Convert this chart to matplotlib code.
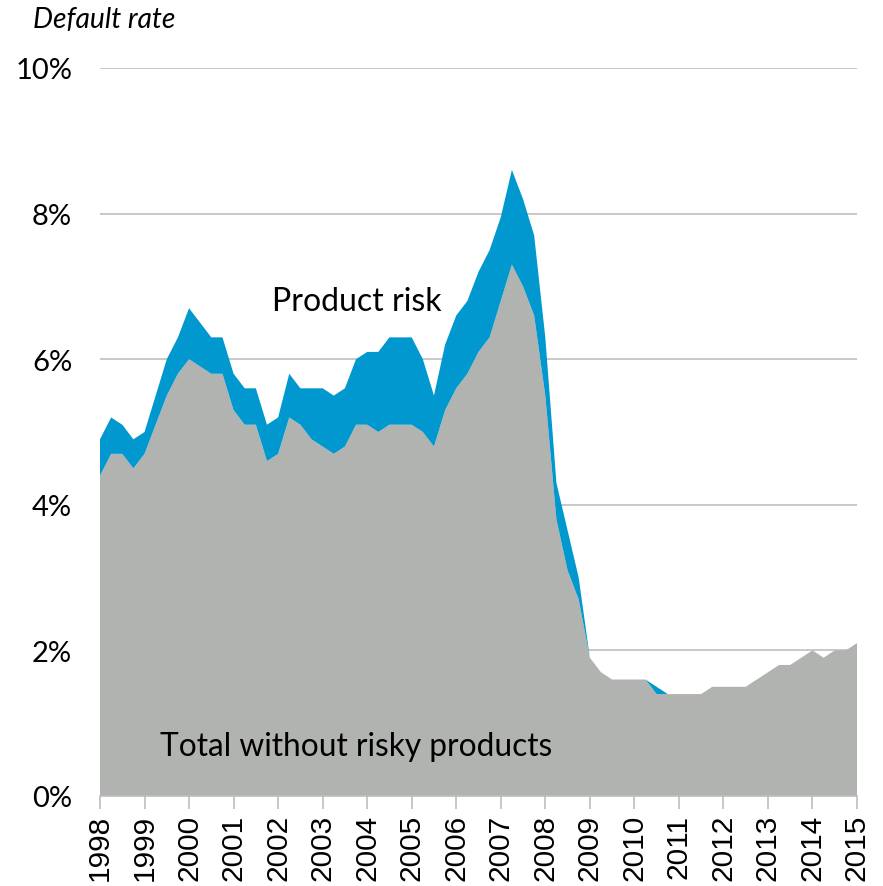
import matplotlib
matplotlib.use("Agg")
import matplotlib.pyplot as plt
import numpy as np

# Quarterly observations, 1998Q1 .. 2015Q1
start_year = 1998
total_without_risky = [
    4.4, 4.7, 4.7, 4.5, 4.7, 5.1, 5.5, 5.8,   # 1998-1999
    6.0, 5.9, 5.8, 5.8, 5.3, 5.1, 5.1, 4.6,   # 2000-2001
    4.7, 5.2, 5.1, 4.9, 4.8, 4.7, 4.8, 5.1,   # 2002-2003
    5.1, 5.0, 5.1, 5.1, 5.1, 5.0, 4.8, 5.3,   # 2004-2005
    5.6, 5.8, 6.1, 6.3, 6.8, 7.3, 7.0, 6.6,   # 2006-2007
    5.5, 3.8, 3.1, 2.7, 1.9, 1.7, 1.6, 1.6,   # 2008-2009
    1.6, 1.6, 1.4, 1.4, 1.4, 1.4, 1.4, 1.5,   # 2010-2011
    1.5, 1.5, 1.5, 1.6, 1.7, 1.8, 1.8, 1.9,   # 2012-2013
    2.0, 1.9, 2.0, 2.0, 2.1,                  # 2014-2015Q1
]
total_rate = [
    4.9, 5.2, 5.1, 4.9, 5.0, 5.5, 6.0, 6.3,
    6.7, 6.5, 6.3, 6.3, 5.8, 5.6, 5.6, 5.1,
    5.2, 5.8, 5.6, 5.6, 5.6, 5.5, 5.6, 6.0,
    6.1, 6.1, 6.3, 6.3, 6.3, 6.0, 5.5, 6.2,
    6.6, 6.8, 7.2, 7.5, 7.95, 8.6, 8.2, 7.7,
    6.3, 4.3, 3.65, 3.0, 1.9, 1.7, 1.6, 1.6,
    1.6, 1.6, 1.5, 1.4, 1.4, 1.4, 1.4, 1.5,
    1.5, 1.5, 1.5, 1.6, 1.7, 1.8, 1.8, 1.9,
    2.0, 1.9, 2.0, 2.0, 2.1,
]
year_labels = [str(y) for y in range(1998, 2016)]
y_ticks = [0, 2, 4, 6, 8, 10]

base = np.array(total_without_risky)
product_risk = np.array(total_rate) - base
x = start_year + np.arange(len(base)) * 0.25

GREY = "#b1b3b0"
BLUE = "#0098ce"
GRID = "#c4c4c4"

fig = plt.figure(figsize=(8.83, 8.87), dpi=100)
ax = fig.add_axes([100 / 883, 1 - 797 / 887, 757 / 883, 728 / 887])

ax.stackplot(x, base, product_risk, colors=[GREY, BLUE], linewidth=0, zorder=2)

ax.set_xlim(1998, 2015)
ax.set_ylim(0, 10)
ax.set_yticks(y_ticks)
ax.set_yticklabels([f"{v}%" for v in y_ticks], fontfamily="Lato", fontsize=21)
ax.tick_params(axis="y", length=0, pad=20)
for v in y_ticks[1:]:
    ax.axhline(v, color=GRID, lw=1.3, zorder=1)

ax.set_xticks(range(1998, 2016))
ax.set_xticklabels(year_labels, rotation=90, fontfamily="Liberation Sans", fontsize=21.5)
ax.tick_params(axis="x", length=9, width=1.2, color="#bdbdbd", pad=4)

for s in ["top", "right", "left"]:
    ax.spines[s].set_visible(False)
ax.spines["bottom"].set_color("#bdbdbd")
ax.spines["bottom"].set_linewidth(1.2)
ax.spines["bottom"].set_zorder(3)

fig.text(33 / 883, 1 - 20 / 887, "Default rate", fontfamily="Lato", style="italic",
         fontsize=20.3, ha="left", va="center")
ax.text(2001.86, 6.8, "Product risk", fontfamily="Lato", fontsize=23,
        ha="left", va="center", zorder=4)
ax.text(1999.35, 0.69, "Total without risky products", fontfamily="Lato", fontsize=22.8,
        ha="left", va="center", zorder=4)

fig.savefig("out.png", dpi=100)
